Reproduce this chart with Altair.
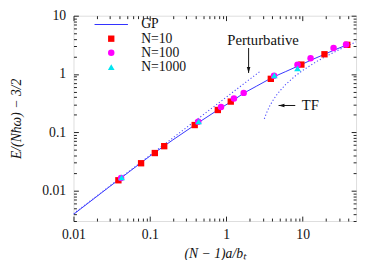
import altair as alt
import pandas as pd

# ---------------- data ----------------
series_names = ["GP", "N=10", "N=100", "N=1000"]

n10_x = [0.0387, 0.0767, 0.116, 0.154, 0.386, 0.775, 1.145, 3.83, 9.62, 19.3, 38.4]
n10_y = [0.0150, 0.0294, 0.044, 0.0577, 0.133, 0.241, 0.336, 0.826, 1.45, 2.18, 3.16]

n100_x = [0.042, 0.43, 0.853, 1.26, 1.69, 4.22, 8.56, 12.7, 25.4, 37.0]
n100_y = [0.0164, 0.151, 0.272, 0.38, 0.474, 0.933, 1.44, 1.86, 2.79, 3.2]

n1000_x = [0.0427, 0.435, 4.26, 8.56]
n1000_y = [0.0168, 0.153, 0.95, 1.25]

gp_x = [0.01, 0.03, 0.1, 0.2, 0.4, 0.8, 1.2, 1.7, 2.5, 4.0, 6.0, 9.6, 13.0, 20.0, 26.0, 38.0]
gp_y = [0.0039, 0.0118, 0.039, 0.074, 0.137, 0.248, 0.345, 0.47, 0.62, 0.87, 1.10, 1.45, 1.74, 2.22, 2.58, 3.16]

pert_x = [0.01, 2.8]
pert_y = [0.004, 1.12]

tf_x = [3.15, 3.3, 3.5, 3.7, 4.0, 4.5, 5.0, 6.0, 8.0, 10.0, 15.0, 20.0, 30.0, 40.0, 50.0]
tf_y = [0.170, 0.201, 0.241, 0.281, 0.337, 0.426, 0.508, 0.661, 0.924, 1.15, 1.617, 1.996, 2.614, 3.114, 3.55]

ann_text = ["Perturbative", "TF"]
ann_x = [3.03, 12.6]
ann_y = [3.76, 0.295]

arrow_down_x = [1.96]
arrow_down_y1 = [2.79]
arrow_down_y2 = [1.04]
arrow_left_y = [0.288]
arrow_left_x1 = [8.0]
arrow_left_x2 = [4.84]

x_ticks = [round(m * 10 ** e, 6) for e in range(-2, 1) for m in range(1, 10)] + [10, 20, 30, 40]
y_ticks = [round(m * 10 ** e, 6) for e in range(-3, 1) for m in range(1, 10)] + [10]
y_ticks = [v for v in y_ticks if v >= 0.003]

# ---------------- styling ----------------
FONT = "Liberation Serif"
FS = 14
INK = "#222222"
TXT = "#111111"
BLUE = "#3333ff"
DOT_BLUE = "#4a4aff"
W, H = 289, 210

MAJ = "abs(log(datum.value)/LN10 - round(log(datum.value)/LN10)) < 0.001"
TICK_LEN = {"condition": {"test": MAJ, "value": 5}, "value": 3}

base_axis = dict(
    domain=False, grid=False, labelFlush=False, labelOverlap=False,
    labelFont=FONT, labelFontSize=FS, labelColor=TXT, tickColor=INK, tickWidth=1,
    titleFont=FONT, titleFontSize=FS, titleFontWeight="normal", titleColor=TXT,
)

# label-carrying axes (no ticks)
x_lab = alt.Axis(orient="bottom", values=x_ticks, format="~g", ticks=False, tickSize=0,
                 labelExpr=f"({MAJ}) ? datum.label : ''", labelPadding=7,
                 title="(N − 1)a/bₜ", titleFontStyle="italic", titlePadding=5, **base_axis)
y_lab = alt.Axis(orient="left", values=y_ticks, format="~g", ticks=False, tickSize=0,
                 labelExpr=f"({MAJ}) ? datum.label : ''", labelPadding=8,
                 title="E/(Nħω) − 3/2", titleFontStyle="italic", titlePadding=19, **base_axis)
# inward tick axes on bottom/left (flipped orient, moved across)
x_tick_bottom = alt.Axis(orient="top", offset=-H, values=x_ticks, labels=False, title=None,
                         tickSize=TICK_LEN, **base_axis)
y_tick_left = alt.Axis(orient="right", offset=-W, values=y_ticks, labels=False, title=None,
                       tickSize=TICK_LEN, **base_axis)
# inward tick axes on top/right
x_tick_top = alt.Axis(orient="bottom", offset=-H, values=x_ticks, labels=False, title=None,
                      tickSize=TICK_LEN, **base_axis)
y_tick_right = alt.Axis(orient="left", offset=-W, values=y_ticks, labels=False, title=None,
                        tickSize=TICK_LEN, **base_axis)

xs = alt.Scale(type="log", domain=[0.01, 50], nice=False)
ys = alt.Scale(type="log", domain=[0.003, 10], nice=False)

# ---------------- tables ----------------
gp_df = pd.DataFrame({"x": gp_x, "y": gp_y})
pert_df = pd.DataFrame({"x": pert_x, "y": pert_y})
tf_df = pd.DataFrame({"x": tf_x, "y": tf_y})
pts_df = pd.concat([
    pd.DataFrame({"x": n10_x, "y": n10_y, "series": "N=10"}),
    pd.DataFrame({"x": n100_x, "y": n100_y, "series": "N=100"}),
    pd.DataFrame({"x": n1000_x, "y": n1000_y, "series": "N=1000"}),
], ignore_index=True)
ann_df = pd.DataFrame({"x": ann_x, "y": ann_y, "t": ann_text})
arr_d = pd.DataFrame({"x": arrow_down_x, "y": arrow_down_y1, "y2": arrow_down_y2})
arr_l = pd.DataFrame({"y": arrow_left_y, "x": arrow_left_x1, "x2": arrow_left_x2})

# ---------------- layers ----------------
gp = alt.Chart(gp_df).mark_line(color=BLUE, strokeWidth=1, clip=True).encode(
    x=alt.X("x:Q", scale=xs, axis=x_lab),
    y=alt.Y("y:Q", scale=ys, axis=y_lab),
)
pert = alt.Chart(pert_df).mark_line(color=DOT_BLUE, strokeWidth=1.1, strokeDash=[1.2, 2.2], clip=True).encode(
    x=alt.X("x:Q", scale=xs, axis=x_tick_bottom),
    y=alt.Y("y:Q", scale=ys, axis=y_tick_left),
)
tf = alt.Chart(tf_df).mark_line(color=DOT_BLUE, strokeWidth=1.1, strokeDash=[1.2, 2.2], clip=True).encode(
    x=alt.X("x:Q", scale=xs, axis=x_tick_top),
    y=alt.Y("y:Q", scale=ys, axis=y_tick_right),
)
shaft_d = alt.Chart(arr_d).mark_rule(color=TXT, strokeWidth=1).encode(
    x=alt.X("x:Q", scale=xs, axis=None),
    y=alt.Y("y:Q", scale=ys, axis=None), y2="y2:Q",
)
head_d = alt.Chart(arr_d).mark_point(
    shape="M-0.6,-2L0.6,-2L0,0Z", filled=True, size=36, color=TXT, opacity=1, strokeWidth=0
).encode(
    x=alt.X("x:Q", scale=xs, axis=None),
    y=alt.Y("y2:Q", scale=ys, axis=None),
)
shaft_l = alt.Chart(arr_l).mark_rule(color=TXT, strokeWidth=1).encode(
    x=alt.X("x:Q", scale=xs, axis=None), x2="x2:Q",
    y=alt.Y("y:Q", scale=ys, axis=None),
)
head_l = alt.Chart(arr_l).mark_point(
    shape="M0,0L2,-0.6L2,0.6Z", filled=True, size=36, color=TXT, opacity=1, strokeWidth=0
).encode(
    x=alt.X("x2:Q", scale=xs, axis=None),
    y=alt.Y("y:Q", scale=ys, axis=None),
)
ann = alt.Chart(ann_df).mark_text(font=FONT, fontSize=15, color=TXT).encode(
    x=alt.X("x:Q", scale=xs, axis=None),
    y=alt.Y("y:Q", scale=ys, axis=None),
    text="t:N",
)

leg = dict(title=None, orient="none", legendX=31.6, legendY=2, padding=0,
           symbolOffset=0, labelOffset=23.6, rowPadding=0.5, symbolSize=45,
           symbolStrokeWidth=0, labelFont=FONT, labelFontSize=FS, labelColor=TXT)

pts = alt.Chart(pts_df).mark_point(filled=True, opacity=1, strokeWidth=0).encode(
    x=alt.X("x:Q", scale=xs, axis=None),
    y=alt.Y("y:Q", scale=ys, axis=None),
    color=alt.Color(
        "series:N",
        scale=alt.Scale(domain=series_names, range=[BLUE, "#ff0000", "#ff00ff", "#00e5f0"]),
        legend=alt.Legend(**leg),
    ),
    shape=alt.Shape(
        "series:N",
        scale=alt.Scale(domain=series_names,
                        range=["M-5.4,-0.18L5.4,-0.18L5.4,0.18L-5.4,0.18Z", "square", "circle", "triangle-up"]),
        legend=alt.Legend(**leg),
    ),
    size=alt.Size("series:N", scale=alt.Scale(domain=series_names, range=[40, 46, 40, 30]), legend=None),
    order=alt.Order("series:N"),
)

chart = alt.layer(gp, pert, tf, shaft_d, head_d, shaft_l, head_l, ann, pts).properties(
    width=W, height=H,
    padding={"left": 67, "top": 5, "right": 2, "bottom": 37},
    autosize=alt.AutoSizeParams(type="none"),
).resolve_axis(x="independent", y="independent").configure_view(
    stroke=INK, strokeWidth=1
).configure(font=FONT, background="white")

chart.save("out.html", embed_options={"renderer": "svg", "actions": False})
